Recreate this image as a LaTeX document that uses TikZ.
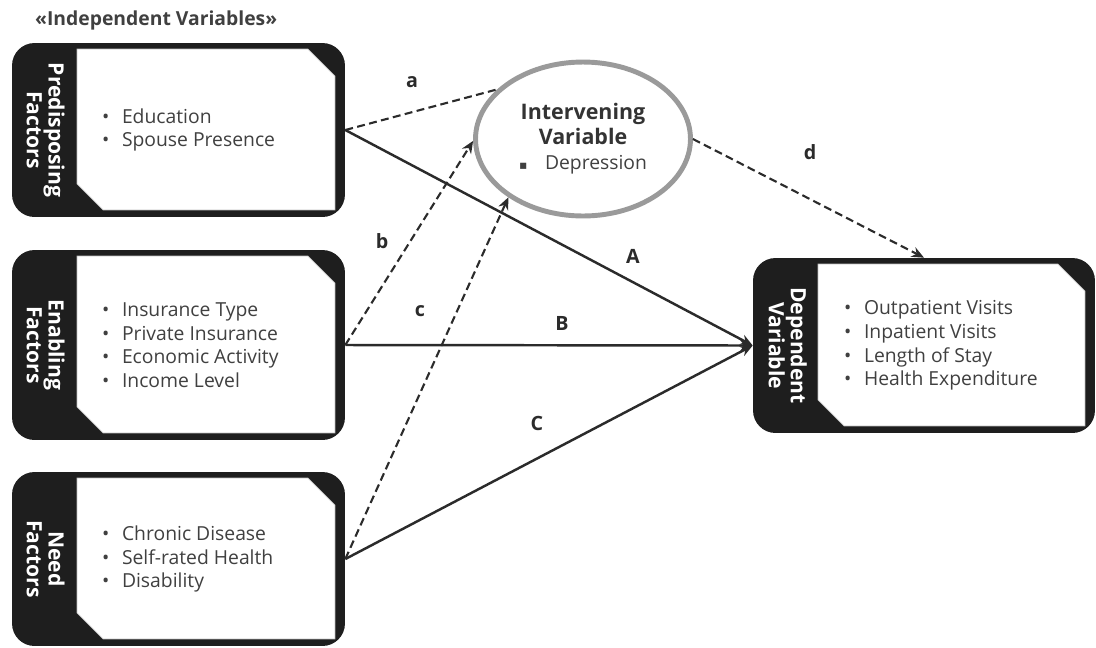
\documentclass[tikz,border=0pt]{standalone}
\usepackage{fontspec}
\setmainfont{Open Sans}
\newfontfamily\symfont{DejaVu Sans}
\usepackage{tikz}
\usetikzlibrary{arrows.meta,positioning,shapes.geometric}
\definecolor{ivBlack}{HTML}{1E1E1E}
\definecolor{ivText}{HTML}{404040}
\definecolor{ivHead}{HTML}{333333}
\definecolor{ivGray}{HTML}{9A9A9A}
\definecolor{ivLine}{HTML}{2B2B2B}
\newcommand{\itm}{\makebox[0.4cm][l]{\textbullet}}

\begin{document}
\begin{tikzpicture}[
    x=0.02cm,y=-0.02cm,
    font=\fontsize{11}{13.4}\selectfont,
    factor/.style={fill=ivBlack,rounded corners=0.45cm,minimum width=6.66cm,
                   path picture={\fill[white,draw=ivGray!60,line width=0.4pt,sharp corners]
                     ([shift={(65,6)}]path picture bounding box.north west)
                     -- ([shift={(-37,6)}]path picture bounding box.north east)
                     -- ([shift={(-10,33)}]path picture bounding box.north east)
                     -- ([shift={(-10,-7)}]path picture bounding box.south east)
                     -- ([shift={(91,-7)}]path picture bounding box.south west)
                     -- ([shift={(65,-33)}]path picture bounding box.south west) -- cycle;}},
    title/.style={text=white,rotate=-90,align=center,
                  font=\fontsize{12}{12.5}\selectfont\bfseries},
    items/.style={anchor=west,align=left,inner sep=0pt,text=ivText},
    lab/.style={text=ivLine,font=\fontsize{11.2}{13}\selectfont\bfseries},
    link/.style={draw=ivLine,line width=1.4pt},
    mediated/.style={draw=ivLine,line width=1.2pt,dash pattern=on 4.5pt off 2.5pt},
    tip/.style={-{Stealth[length=7pt,width=6pt]}}
  ]
    \useasboundingbox (0,0) rectangle (1096,647);

    \node[anchor=base west,text=ivText,font=\fontsize{11}{13}\selectfont\bfseries] (head) at (29,25)
      {«Independent Variables»};

    % independent variable boxes
    \node[factor,minimum height=3.48cm] (pre) at (178.5,130) {};
    \node[title] at ([xshift=0.68cm]pre.west) {Predisposing\\Factors};
    \node[items] (preitems) at ([xshift=1.8cm]pre.west) {\itm Education\\\itm Spouse Presence};

    \node[factor,minimum height=3.8cm] (ena) at (178.5,345) {};
    \node[title] at ([xshift=0.68cm]ena.west) {Enabling\\Factors};
    \node[items] (enaitems) at ([xshift=1.8cm]ena.west)
      {\itm Insurance Type\\\itm Private Insurance\\\itm Economic Activity\\\itm Income Level};

    \node[factor,minimum height=3.48cm] (need) at (178.5,559) {};
    \node[title] at ([xshift=0.68cm]need.west) {Need\\Factors};
    \node[items] (needitems) at ([xshift=1.8cm]need.west)
      {\itm Chronic Disease\\\itm Self-rated Health\\\itm Disability};

    % dependent variable
    \node[factor,minimum width=6.84cm,minimum height=3.5cm] (dep) at (924,345.5) {};
    \node[title] at ([xshift=0.7cm]dep.west) {Dependent\\Variable};
    \node[items] (depitems) at ([xshift=1.82cm]dep.west)
      {\itm Outpatient Visits\\\itm Inpatient Visits\\\itm Length of Stay\\\itm Health Expenditure};

    % intervening variable
    \node[ellipse,draw=ivGray,line width=2.8pt,minimum width=4.3cm,minimum height=3.08cm,
          align=center,text=ivText,font=\fontsize{12.2}{14.2}\selectfont] (iv) at (583,139)
      {\textcolor{ivHead}{\textbf{Intervening}}\\\textcolor{ivHead}{\textbf{Variable}}\\\fontsize{11}{14.2}\selectfont\makebox[0.52cm][l]{\symfont\fontsize{7}{7}\selectfont ▪}Depression};

    \draw[link,tip] (pre.east)  -- (dep.west);
    \draw[link,tip] (ena.east)  -- (dep.west);
    \draw[link,tip] (need.east) -- (dep.west);
    \draw[mediated]     (pre.east)  -- (iv.150);
    \draw[mediated,tip] (ena.east)  -- (iv.181);
    \draw[mediated,tip] (need.east) -- (iv.218);
    \draw[mediated,tip] (iv.east)   -- (dep.north);

    \node[lab] at (412,82)  {a};
    \node[lab] at (633,256) {A};
    \node[lab] at (382,241) {b};
    \node[lab] at (562,323) {B};
    \node[lab] at (420,311) {c};
    \node[lab] at (537,423) {C};
    \node[lab] at (810,152) {d};
  \end{tikzpicture}
\end{document}
